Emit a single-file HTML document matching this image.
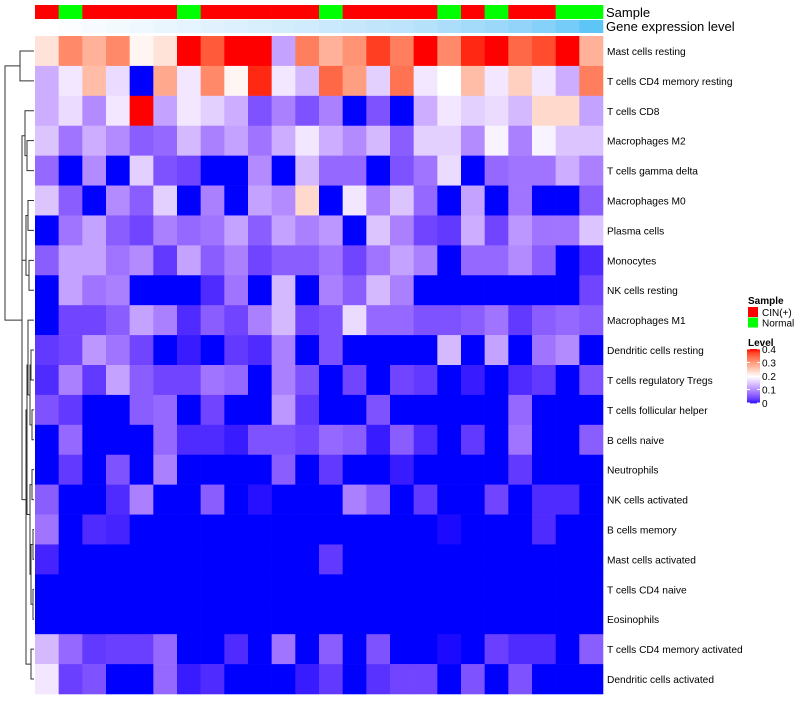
<!DOCTYPE html>
<html><head><meta charset="utf-8">
<style>
body{margin:0;background:#fff;width:800px;height:700px;overflow:hidden;font-family:"Liberation Sans",sans-serif;}
svg text{font-family:"Liberation Sans",sans-serif;}
</style></head>
<body>
<svg id="chart" width="800" height="700" xmlns="http://www.w3.org/2000/svg"></svg>
<script>
const rowNames=["Mast cells resting","T cells CD4 memory resting","T cells CD8","Macrophages M2","T cells gamma delta","Macrophages M0","Plasma cells","Monocytes","NK cells resting","Macrophages M1","Dendritic cells resting","T cells regulatory  Tregs","T cells follicular helper","B cells naive","Neutrophils","NK cells activated","B cells memory","Mast cells activated","T cells CD4 naive","Eosinophils","T cells CD4 memory activated","Dendritic cells activated"];
const sampleGroups=["CIN(+)","Normal","CIN(+)","CIN(+)","CIN(+)","CIN(+)","Normal","CIN(+)","CIN(+)","CIN(+)","CIN(+)","CIN(+)","Normal","CIN(+)","CIN(+)","CIN(+)","CIN(+)","Normal","CIN(+)","Normal","CIN(+)","CIN(+)","Normal","Normal"];
const geneLevel=[0,0.03,0.06,0.09,0.12,0.15,0.18,0.21,0.24,0.27,0.3,0.33,0.36,0.39,0.42,0.45,0.5,0.55,0.6,0.65,0.7,0.77,0.85,0.95];
const legendTicks=[0,0.1,0.2,0.3,0.4];
const values=[
[0.23,0.32,0.28,0.32,0.21,0.23,0.4,0.36,0.4,0.4,0.12,0.33,0.28,0.31,0.38,0.33,0.4,0.32,0.39,0.4,0.35,0.37,0.4,0.28],
[0.13,0.18,0.27,0.17,0,0.29,0.18,0.32,0.21,0.39,0.18,0.14,0.35,0.3,0.16,0.34,0.18,0.2,0.27,0.18,0.25,0.18,0.13,0.33],
[0.13,0.17,0.1,0.18,0.4,0.12,0.18,0.16,0.13,0.05,0.09,0.05,0.09,0,0.05,0,0.13,0.18,0.16,0.17,0.14,0.24,0.24,0.12],
[0.15,0.08,0.13,0.1,0.06,0.07,0.14,0.09,0.12,0.08,0.13,0.18,0.13,0.1,0.14,0.06,0.16,0.16,0.1,0.19,0.09,0.19,0.15,0.15],
[0.07,0,0.1,0,0.16,0.05,0.04,0,0,0.1,0,0.14,0.07,0.07,0,0.05,0.08,0.17,0,0.07,0.08,0.08,0.13,0.09],
[0.15,0.06,0,0.1,0.06,0.16,0,0.09,0,0.12,0.1,0.24,0,0.18,0.09,0.15,0.07,0,0.12,0,0.08,0,0,0.06],
[0,0.08,0.12,0.06,0.04,0.09,0.07,0.08,0.12,0.06,0.12,0.09,0.11,0,0.15,0.09,0.04,0.03,0.13,0.04,0.11,0.08,0.08,0.15],
[0.06,0.12,0.12,0.08,0.1,0.03,0.12,0.06,0.09,0.04,0.06,0.06,0.08,0.04,0.08,0.12,0.09,0,0.07,0.07,0.1,0.06,0,0.02],
[0,0.12,0.08,0.09,0,0,0,0.02,0.08,0,0.14,0,0.09,0.06,0.14,0.09,0,0,0,0,0,0,0,0.04],
[0,0.04,0.04,0.06,0.12,0.09,0.02,0.06,0.04,0.09,0.14,0.04,0.05,0.17,0.07,0.07,0.05,0.05,0.06,0.08,0.03,0.06,0.07,0.06],
[0.03,0.04,0.11,0.08,0.04,0,0.01,0,0.03,0.02,0.09,0,0.05,0,0,0,0,0.14,0,0.12,0,0.08,0.1,0],
[0.02,0.09,0.03,0.12,0.06,0.04,0.04,0.08,0.07,0,0.09,0.05,0,0.04,0,0.04,0.03,0,0.01,0,0.02,0.03,0,0.05],
[0.05,0.03,0,0,0.06,0.07,0,0.04,0,0,0.11,0.03,0,0,0.05,0,0,0,0,0,0.07,0,0,0],
[0,0.07,0,0,0,0.07,0.02,0.02,0.01,0.05,0.05,0.04,0.07,0.06,0.01,0.06,0.02,0,0.03,0,0.08,0,0,0.06],
[0,0.03,0,0.05,0,0.09,0,0,0,0,0.06,0,0.03,0,0,0.01,0,0,0,0,0.03,0,0,0],
[0.06,0,0,0.02,0.09,0,0,0.06,0,0.005,0,0,0,0.09,0.06,0,0.03,0,0,0.04,0,0.02,0.02,0],
[0.08,0,0.02,0.015,0,0,0,0,0,0,0,0,0,0,0,0,0,0.003,0,0,0,0.02,0,0],
[0.015,0,0,0,0,0,0,0,0,0,0,0,0.03,0,0,0,0,0,0,0,0,0,0,0],
[0,0,0,0,0,0,0,0,0,0,0,0,0,0,0,0,0,0,0,0,0,0,0,0],
[0,0,0,0,0,0,0,0,0,0,0,0,0,0,0,0,0,0,0,0,0,0,0,0],
[0.14,0.07,0.03,0.035,0.035,0.07,0,0,0.02,0,0.08,0,0.06,0,0.05,0,0,0.003,0,0.035,0.02,0.02,0,0.06],
[0.18,0.035,0.05,0,0,0.07,0.01,0.02,0,0,0,0.01,0.03,0,0.025,0.04,0.04,0,0.05,0,0.05,0,0,0]
];

const NS="http://www.w3.org/2000/svg";
const svg=document.getElementById('chart');
function mk(tag,attrs,parent){const e=document.createElementNS(NS,tag);for(const k in attrs)e.setAttribute(k,attrs[k]);(parent||svg).appendChild(e);return e;}
function s2l(c){c/=255;return c<=0.04045?c/12.92:Math.pow((c+0.055)/1.055,2.4);}
function l2s(c){c=c<=0.0031308?12.92*c:1.055*Math.pow(c,1/2.4)-0.055;return Math.max(0,Math.min(255,Math.round(c*255)));}
function toLab(rgb){const r=s2l(rgb[0]),g=s2l(rgb[1]),b=s2l(rgb[2]);
let x=(0.4124*r+0.3576*g+0.1805*b)/0.95047,y=(0.2126*r+0.7152*g+0.0722*b),z=(0.0193*r+0.1192*g+0.9505*b)/1.08883;
const f=t=>t>0.008856?Math.cbrt(t):7.787*t+16/116;x=f(x);y=f(y);z=f(z);return [116*y-16,500*(x-y),200*(y-z)];}
function fromLab(l){let y=(l[0]+16)/116,x=l[1]/500+y,z=y-l[2]/200;
const fi=t=>t*t*t>0.008856?t*t*t:(t-16/116)/7.787;x=fi(x)*0.95047;y=fi(y);z=fi(z)*1.08883;
const r=3.2406*x-1.5372*y-0.4986*z,g=-0.9689*x+1.8758*y+0.0415*z,b=0.0557*x-0.2040*y+1.0570*z;return `rgb(${l2s(r)},${l2s(g)},${l2s(b)})`;}
const LB=toLab([0,0,255]),LW=toLab([255,255,255]),LR=toLab([255,0,0]);
function col(v){v=Math.max(0,Math.min(0.4,v));let a,b,t;if(v<=0.2){a=LB;b=LW;t=v/0.2;}else{a=LW;b=LR;t=(v-0.2)/0.2;}
return fromLab([a[0]+(b[0]-a[0])*t,a[1]+(b[1]-a[1])*t,a[2]+(b[2]-a[2])*t]);}
const LBlue=toLab([79,195,247]);
function gcol(t){return fromLab([LW[0]+(LBlue[0]-LW[0])*t,LW[1]+(LBlue[1]-LW[1])*t,LW[2]+(LBlue[2]-LW[2])*t]);}

const X0=35,X1=603,Y0=36,Y1=694;
const nC=sampleGroups.length,nR=rowNames.length;
const cw=(X1-X0)/nC,rh=(Y1-Y0)/nR;
const xS=j=>X0+j*cw, yS=i=>Y0+i*rh;

sampleGroups.forEach((g,j)=>{
 const r=mk('rect',{x:xS(j),y:5,width:cw+0.3,height:14,fill:g==="Normal"?"#00FF00":"#FF0000"});
 
 
});
geneLevel.forEach((t,j)=>{
 const r=mk('rect',{x:xS(j),y:20,width:cw+0.3,height:13,fill:gcol(t)});
 
 
});
const t1=mk('text',{x:606,y:17,'font-size':13,fill:'#000'});t1.textContent="Sample";

const t2=mk('text',{x:606,y:31,'font-size':13,fill:'#000'});t2.textContent="Gene expression level";


values.forEach((row,i)=>{row.forEach((v,j)=>{
 const r=mk('rect',{x:xS(j),y:yS(i),width:cw+0.3,height:rh+0.3,fill:col(v)});
 
 
});});
rowNames.forEach((n,i)=>{
 const t=mk('text',{x:607,y:yS(i)+rh/2+4,'font-size':10.2,fill:'#000'});t.textContent=n;
 
});

const g=mk('g',{stroke:'#333','stroke-width':1,fill:'none'});

const cy=i=>yS(i)+rh/2;
function node(x,ya,yb,xa,xb){mk('path',{d:`M${xa},${ya}H${x}V${yb}H${xb}`},g);}
node(20,cy(0),cy(1),34,34);
node(27,cy(3),cy(4),34,34);
node(25,cy(2),(cy(3)+cy(4))/2,34,27);
node(28,cy(5),cy(6),34,34);
node(29,cy(7),cy(8),34,34);
node(26,cy(6)-rh/2,(cy(7)+cy(8))/2,28,29);
node(22,(cy(2)+cy(3))/2+10,cy(8)-30,25,26);
node(31,cy(10),cy(11),34,34);
node(32,cy(12),cy(13),34,34);
node(30,(cy(10)+cy(11))/2,(cy(12)+cy(13))/2,31,32);
node(28,cy(9),(cy(11)+cy(12))/2,34,30);
node(32,cy(14),cy(15),34,34);
node(33,cy(16),cy(17),34,34);
node(33,cy(18),cy(19),34,34);
node(31,(cy(16)+cy(17))/2,(cy(18)+cy(19))/2,33,33);
node(30,(cy(14)+cy(15))/2,(cy(16)+cy(18))/2+rh/2,32,31);
node(27,(cy(9)+cy(11))/2+rh/2,(cy(15)+cy(16))/2,28,30);
node(31,cy(20),cy(21),34,34);
node(26,cy(12),(cy(20)+cy(21))/2,27,31);
node(22,cy(5),cy(15),22,26);
node(5,(cy(0)+cy(1))/2,cy(9),20,22);

const lg=mk('g',{});
const ls=mk('text',{x:748,y:304,'font-size':10,'font-weight':'bold'},lg);ls.textContent="Sample";
[["CIN(+)","#FF0000"],["Normal","#00FF00"]].forEach((e,k)=>{
 const r=mk('rect',{x:748,y:307+k*10.5,width:10,height:10,fill:e[1]},lg);
 
 const t=mk('text',{x:762,y:316+k*10.5,'font-size':10},lg);t.textContent=e[0];
 
});
const ll=mk('text',{x:748,y:346,'font-size':10,'font-weight':'bold'},lg);ll.textContent="Level";
const LT=349,LBt=403;
for(let k=0;k<40;k++){const v=0.4-0.4*k/40;mk('rect',{x:747,y:LT+(LBt-LT)*k/40,width:13,height:(LBt-LT)/40+0.4,fill:col(v)},lg);}
legendTicks.forEach(v=>{
 const y=LBt-(LBt-LT)*v/0.4;
 mk('line',{x1:747,x2:750,y1:y,y2:y,stroke:'#fff'},lg);mk('line',{x1:757,x2:760,y1:y,y2:y,stroke:'#fff'},lg);
 const t=mk('text',{x:762,y:y+4,'font-size':10},lg);t.textContent=String(v);
 
});
</script>
</body></html>
